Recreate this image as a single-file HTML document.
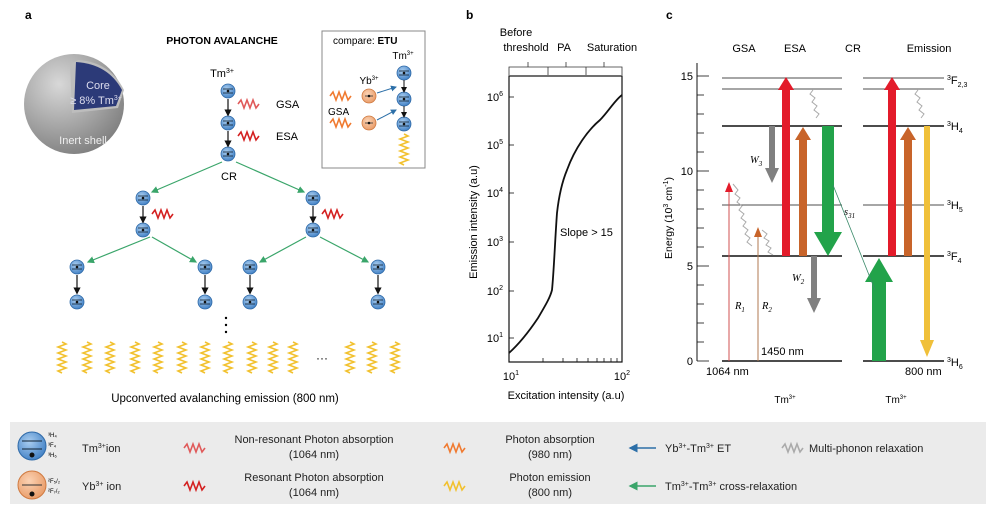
<!DOCTYPE html>
<html><head><meta charset="utf-8"><style>
body{margin:0;background:#fff}
svg{display:block;font-family:"Liberation Sans",sans-serif}
</style></head><body>
<svg width="1000" height="506" viewBox="0 0 1000 506" xmlns="http://www.w3.org/2000/svg">
<defs>
<radialGradient id="bl" cx="0.4" cy="0.35" r="0.7"><stop offset="0" stop-color="#a9cdf0"/><stop offset="1" stop-color="#3f7fc4"/></radialGradient>
<radialGradient id="or" cx="0.4" cy="0.35" r="0.7"><stop offset="0" stop-color="#fbd2b3"/><stop offset="1" stop-color="#e89a66"/></radialGradient>
<radialGradient id="sp" cx="0.35" cy="0.3" r="0.8"><stop offset="0" stop-color="#d8d8d8"/><stop offset="1" stop-color="#7a7a7a"/></radialGradient>
<marker id="ak" markerWidth="6" markerHeight="6" refX="3" refY="3" orient="auto"><path d="M0,0L6,3L0,6z" fill="#111"/></marker>
<marker id="ag" markerWidth="6" markerHeight="6" refX="5" refY="3" orient="auto"><path d="M0,0L6,3L0,6z" fill="#3aa56a"/></marker>
<marker id="ab" markerWidth="6" markerHeight="6" refX="5" refY="3" orient="auto"><path d="M0,0L6,3L0,6z" fill="#2c6fa8"/></marker>
<g id="ion"><circle r="7" fill="url(#bl)" stroke="#2f6aa8" stroke-width="0.8"/><line x1="-5" y1="-2" x2="5" y2="-2" stroke="#123" stroke-width="0.8"/><line x1="-5" y1="2" x2="5" y2="2" stroke="#123" stroke-width="0.8"/><circle cx="0" cy="0" r="1.3" fill="#111"/></g>
<g id="yb"><circle r="7" fill="url(#or)" stroke="#d07a40" stroke-width="0.8"/><line x1="-4" y1="0" x2="4" y2="0" stroke="#333" stroke-width="0.8"/><circle r="1.3" fill="#111"/></g>
<path id="spr" d="M0,0 l4,2 l-8,3 l8,3 l-8,3 l8,3 l-8,3 l8,3 l-8,3 l8,3 l-8,3 l4,2" fill="none" stroke="#f2c12e" stroke-width="1.6"/>
<path id="wr" d="M0,0 l3,-4 l3,8 l3,-8 l3,8 l3,-8 l3,8 l3,-4" fill="none" stroke-width="1.6"/>
</defs>

<!-- Panel a -->
<text x="25" y="19" font-size="12" font-weight="bold">a</text>
<circle cx="74" cy="104" r="50" fill="url(#sp)"/>
<path d="M70,64 L78,60 Q110,62 124,90 L118,108 L72,113 Z" fill="#bdbdbd"/>
<path d="M76,62 Q108,64 122,90 L116,106 L74,110 Z" fill="#2c3a78"/>
<text x="98" y="89" font-size="11" fill="#dde" text-anchor="middle">Core</text>
<text x="96" y="104" font-size="11" fill="#dde" text-anchor="middle">≥ 8% Tm<tspan font-size="7" dy="-4">3+</tspan></text>
<text x="83" y="144" font-size="11" fill="#eee" text-anchor="middle">Inert shell</text>
<text x="222" y="44" font-size="10.5" font-weight="bold" text-anchor="middle">PHOTON AVALANCHE</text>
<text x="222" y="77" font-size="11" text-anchor="middle">Tm<tspan font-size="7" dy="-4">3+</tspan></text>
<use href="#ion" x="228" y="91"/><use href="#ion" x="228" y="123"/><use href="#ion" x="228" y="154"/>
<line x1="228" y1="99" x2="228" y2="113" stroke="#111" stroke-width="1.2" marker-end="url(#ak)"/>
<line x1="228" y1="131" x2="228" y2="144" stroke="#111" stroke-width="1.2" marker-end="url(#ak)"/>
<use href="#wr" x="238" y="104" stroke="#e05a5a"/><text x="276" y="108" font-size="11">GSA</text>
<use href="#wr" x="238" y="136" stroke="#d42020" stroke-width="2.4"/><text x="276" y="140" font-size="11">ESA</text>
<text x="229" y="180" font-size="11" text-anchor="middle">CR</text>
<g stroke="#3aa56a" stroke-width="1.2" marker-end="url(#ag)">
<line x1="222" y1="162" x2="152" y2="192"/><line x1="236" y1="162" x2="304" y2="192"/>
<line x1="150" y1="237" x2="88" y2="262"/><line x1="152" y1="237" x2="196" y2="262"/>
<line x1="306" y1="237" x2="260" y2="262"/><line x1="320" y1="237" x2="368" y2="262"/>
</g>
<use href="#ion" x="143" y="198"/><use href="#ion" x="143" y="230"/><use href="#ion" x="313" y="198"/><use href="#ion" x="313" y="230"/>
<line x1="143" y1="206" x2="143" y2="220" stroke="#111" stroke-width="1.2" marker-end="url(#ak)"/>
<line x1="313" y1="206" x2="313" y2="220" stroke="#111" stroke-width="1.2" marker-end="url(#ak)"/>
<use href="#wr" x="152" y="214" stroke="#d42020" stroke-width="2.4"/><use href="#wr" x="322" y="214" stroke="#d42020" stroke-width="2.4"/>
<g>
<use href="#ion" x="77" y="267"/><use href="#ion" x="77" y="302"/><use href="#ion" x="205" y="267"/><use href="#ion" x="205" y="302"/>
<use href="#ion" x="250" y="267"/><use href="#ion" x="250" y="302"/><use href="#ion" x="378" y="267"/><use href="#ion" x="378" y="302"/>
</g>
<g stroke="#111" stroke-width="1.2" marker-end="url(#ak)">
<line x1="77" y1="275" x2="77" y2="291"/><line x1="205" y1="275" x2="205" y2="291"/><line x1="250" y1="275" x2="250" y2="291"/><line x1="378" y1="275" x2="378" y2="291"/>
</g>
<circle cx="226" cy="318" r="1.2"/><circle cx="226" cy="325" r="1.2"/><circle cx="226" cy="332" r="1.2"/>
<g>
<use href="#spr" x="62" y="342"/><use href="#spr" x="87" y="342"/><use href="#spr" x="110" y="342"/><use href="#spr" x="135" y="342"/><use href="#spr" x="158" y="342"/><use href="#spr" x="182" y="342"/><use href="#spr" x="205" y="342"/><use href="#spr" x="228" y="342"/><use href="#spr" x="252" y="342"/><use href="#spr" x="273" y="342"/><use href="#spr" x="293" y="342"/><use href="#spr" x="350" y="342"/><use href="#spr" x="372" y="342"/><use href="#spr" x="395" y="342"/>
</g>
<text x="322" y="362" font-size="12" text-anchor="middle">···</text>
<text x="225" y="402" font-size="11.5" text-anchor="middle">Upconverted avalanching emission (800 nm)</text>
<!-- inset -->
<rect x="322" y="31" width="103" height="137" fill="#fff" stroke="#888" stroke-width="1"/>
<text x="333" y="44" font-size="10">compare: <tspan font-weight="bold">ETU</tspan></text>
<text x="403" y="59" font-size="10" text-anchor="middle">Tm<tspan font-size="6" dy="-4">3+</tspan></text>
<text x="369" y="84" font-size="10" text-anchor="middle">Yb<tspan font-size="6" dy="-4">3+</tspan></text>
<use href="#ion" x="404" y="73"/><use href="#ion" x="404" y="99"/><use href="#ion" x="404" y="124"/>
<use href="#yb" x="369" y="96"/><use href="#yb" x="369" y="123"/>
<use href="#wr" x="330" y="96" stroke="#f07a30"/><use href="#wr" x="330" y="123" stroke="#f07a30"/>
<text x="328" y="115" font-size="10">GSA</text>
<line x1="377" y1="93" x2="396" y2="87" stroke="#2c6fa8" marker-end="url(#ab)"/>
<line x1="377" y1="120" x2="396" y2="110" stroke="#2c6fa8" marker-end="url(#ab)"/>
<line x1="404" y1="80" x2="404" y2="90" stroke="#111" marker-end="url(#ak)"/>
<line x1="404" y1="106" x2="404" y2="115" stroke="#111" marker-end="url(#ak)"/>
<use href="#spr" x="404" y="134"/>

<!-- Panel b -->
<text x="466" y="19" font-size="12" font-weight="bold">b</text>
<text x="516" y="36" font-size="11" text-anchor="middle">Before</text>
<text x="526" y="51" font-size="11" text-anchor="middle">threshold</text>
<text x="564" y="51" font-size="11" text-anchor="middle">PA</text>
<text x="612" y="51" font-size="11" text-anchor="middle">Saturation</text>
<path d="M509,75 V67 H622 V75 M548,67 V75 M586,67 V75 M528,67 V62 M566,67 V62 M604,67 V62" fill="none" stroke="#333" stroke-width="0.8"/>
<rect x="509" y="76" width="113" height="286" fill="none" stroke="#111" stroke-width="1.2"/>
<g font-size="11" text-anchor="end">
<text x="503" y="101">10<tspan font-size="7" dy="-5">6</tspan></text>
<text x="503" y="149">10<tspan font-size="7" dy="-5">5</tspan></text>
<text x="503" y="197">10<tspan font-size="7" dy="-5">4</tspan></text>
<text x="503" y="246">10<tspan font-size="7" dy="-5">3</tspan></text>
<text x="503" y="295">10<tspan font-size="7" dy="-5">2</tspan></text>
<text x="503" y="342">10<tspan font-size="7" dy="-5">1</tspan></text>
</g>
<g stroke="#111" stroke-width="0.8">
<line x1="509" y1="97" x2="514" y2="97"/><line x1="509" y1="145" x2="514" y2="145"/><line x1="509" y1="193" x2="514" y2="193"/><line x1="509" y1="242" x2="514" y2="242"/><line x1="509" y1="291" x2="514" y2="291"/><line x1="509" y1="338" x2="514" y2="338"/>
<line x1="543" y1="362" x2="543" y2="358"/><line x1="563" y1="362" x2="563" y2="358"/><line x1="577" y1="362" x2="577" y2="358"/><line x1="588" y1="362" x2="588" y2="358"/><line x1="597" y1="362" x2="597" y2="358"/><line x1="604" y1="362" x2="604" y2="358"/><line x1="611" y1="362" x2="611" y2="358"/><line x1="617" y1="362" x2="617" y2="358"/>
</g>
<path d="M509,353 C520,343 530,330 538,318 C545,306 550,298 552,290 C554,270 555,240 557,213 C559,195 562,182 567,170 C575,148 588,130 600,120 C608,112 615,100 622,95" fill="none" stroke="#111" stroke-width="1.8"/>
<text x="560" y="236" font-size="11">Slope &gt; 15</text>
<text x="511" y="380" font-size="11" text-anchor="middle">10<tspan font-size="7" dy="-5">1</tspan></text>
<text x="622" y="380" font-size="11" text-anchor="middle">10<tspan font-size="7" dy="-5">2</tspan></text>
<text x="566" y="399" font-size="11" text-anchor="middle">Excitation intensity (a.u)</text>
<text transform="translate(477,222) rotate(-90)" font-size="11" text-anchor="middle">Emission intensity (a.u)</text>

<!-- Panel c -->
<text x="666" y="19" font-size="12" font-weight="bold">c</text>
<g font-size="11" text-anchor="middle"><text x="744" y="52">GSA</text><text x="795" y="52">ESA</text><text x="853" y="52">CR</text><text x="929" y="52">Emission</text></g>
<line x1="697" y1="63" x2="697" y2="361" stroke="#111" stroke-width="1"/>
<g stroke="#111" stroke-width="0.8">
<line x1="697" y1="361" x2="709" y2="361"/><line x1="697" y1="342" x2="704" y2="342"/><line x1="697" y1="323" x2="704" y2="323"/><line x1="697" y1="304" x2="704" y2="304"/><line x1="697" y1="285" x2="704" y2="285"/><line x1="697" y1="266" x2="709" y2="266"/><line x1="697" y1="247" x2="704" y2="247"/><line x1="697" y1="228" x2="704" y2="228"/><line x1="697" y1="209" x2="704" y2="209"/><line x1="697" y1="190" x2="704" y2="190"/><line x1="697" y1="171" x2="709" y2="171"/><line x1="697" y1="152" x2="704" y2="152"/><line x1="697" y1="133" x2="704" y2="133"/><line x1="697" y1="114" x2="704" y2="114"/><line x1="697" y1="95" x2="704" y2="95"/><line x1="697" y1="76" x2="709" y2="76"/>
</g>
<g font-size="11" text-anchor="end"><text x="693" y="365">0</text><text x="693" y="270">5</text><text x="693" y="175">10</text><text x="693" y="80">15</text></g>
<text transform="translate(672,218) rotate(-90)" font-size="10.5" text-anchor="middle">Energy (10<tspan font-size="7" dy="-4">3</tspan><tspan dy="4"> cm</tspan><tspan font-size="7" dy="-4">-1</tspan><tspan dy="4">)</tspan></text>
<g stroke="#111">
<line x1="722" y1="78" x2="842" y2="78" stroke-width="0.8"/><line x1="722" y1="89" x2="842" y2="89" stroke-width="0.8"/><line x1="722" y1="126" x2="842" y2="126" stroke-width="1.5"/><line x1="722" y1="205" x2="842" y2="205" stroke-width="0.8"/><line x1="722" y1="256" x2="842" y2="256" stroke-width="1.5"/><line x1="722" y1="361" x2="842" y2="361" stroke-width="1.5"/>
<line x1="863" y1="78" x2="944" y2="78" stroke-width="0.8"/><line x1="863" y1="89" x2="944" y2="89" stroke-width="0.8"/><line x1="863" y1="126" x2="944" y2="126" stroke-width="1.5"/><line x1="863" y1="205" x2="944" y2="205" stroke-width="0.8"/><line x1="863" y1="256" x2="944" y2="256" stroke-width="1.5"/><line x1="863" y1="361" x2="944" y2="361" stroke-width="1.5"/>
</g>
<g font-size="11"><text x="947" y="84"><tspan font-size="7" dy="-4">3</tspan><tspan dy="4">F</tspan><tspan font-size="7" dy="3">2,3</tspan></text>
<text x="947" y="130"><tspan font-size="7" dy="-4">3</tspan><tspan dy="4">H</tspan><tspan font-size="7" dy="3">4</tspan></text>
<text x="947" y="209"><tspan font-size="7" dy="-4">3</tspan><tspan dy="4">H</tspan><tspan font-size="7" dy="3">5</tspan></text>
<text x="947" y="260"><tspan font-size="7" dy="-4">3</tspan><tspan dy="4">F</tspan><tspan font-size="7" dy="3">4</tspan></text>
<text x="947" y="366"><tspan font-size="7" dy="-4">3</tspan><tspan dy="4">H</tspan><tspan font-size="7" dy="3">6</tspan></text></g>
<!-- arrows c -->
<path d="M782,256 V90 H778 L786,77 L794,90 H790 V256Z" fill="#e31b2a"/>
<path d="M799,256 V140 H795 L803,127 L811,140 H807 V256Z" fill="#c8642a"/>
<path d="M822,126 V232 H814 L828,256 L842,232 H834 V126Z" fill="#22a34a"/>
<path d="M769,126 V168 H765 L772,183 L779,168 H775 V126Z" fill="#808080"/>
<path d="M811,256 V298 H807 L814,313 L821,298 H817 V256Z" fill="#808080"/>
<path d="M888,256 V90 H884 L892,77 L900,90 H896 V256Z" fill="#e31b2a"/>
<path d="M904,256 V140 H900 L908,127 L916,140 H912 V256Z" fill="#c8642a"/>
<path d="M872,361 V282 H865 L879,258 L893,282 H886 V361Z" fill="#22a34a"/>
<path d="M924,126 V340 H920 L927,357 L934,340 H930 V126Z" fill="#f0c03a"/>
<line x1="729" y1="361" x2="729" y2="190" stroke="#d05050" stroke-width="1"/><path d="M725,192 L729,182 L733,192Z" fill="#e31b2a"/>
<line x1="758" y1="361" x2="758" y2="235" stroke="#b07a50" stroke-width="1"/><path d="M754,237 L758,227 L762,237Z" fill="#c8642a"/>
<line x1="833" y1="185" x2="875" y2="290" stroke="#3a8a6a" stroke-width="0.8"/>
<g fill="none" stroke="#aaa" stroke-width="1">
<path d="M733,184 l5,6 l-3,4 l5,4 l-3,4 l5,4 l-3,4 l5,4 l-3,4 l5,4 l-3,4 l5,4 l-3,4 l5,4 l-3,4 l5,4"/>
<path d="M762,230 l5,4 l-3,4 l5,3 l-3,4 l5,3 l-3,4 l5,3"/>
<path d="M813,90 l-3,4 l5,4 l-3,4 l5,4 l-3,4 l5,4 l-3,4"/>
<path d="M918,90 l-3,4 l5,4 l-3,4 l5,4 l-3,4 l5,4 l-3,4"/>
</g>
<g font-size="10.5" font-style="italic" font-family="Liberation Serif,serif"><text x="735" y="309">R<tspan font-size="7" dy="3">1</tspan></text><text x="762" y="309">R<tspan font-size="7" dy="3">2</tspan></text><text x="750" y="163">W<tspan font-size="7" dy="3">3</tspan></text><text x="792" y="281">W<tspan font-size="7" dy="3">2</tspan></text><text x="844" y="215">s<tspan font-size="7" dy="3">31</tspan></text></g>
<text x="761" y="355" font-size="11">1450 nm</text>
<text x="706" y="375" font-size="11">1064 nm</text>
<text x="905" y="375" font-size="11">800 nm</text>
<text x="785" y="403" font-size="10" text-anchor="middle">Tm<tspan font-size="6" dy="-4">3+</tspan></text>
<text x="896" y="403" font-size="10" text-anchor="middle">Tm<tspan font-size="6" dy="-4">3+</tspan></text>

<!-- legend -->
<rect x="10" y="422" width="976" height="82" fill="#ebebeb"/>
<circle cx="32" cy="446" r="14" fill="url(#bl)" stroke="#2f6aa8"/><line x1="22" y1="441" x2="42" y2="441" stroke="#123"/><line x1="22" y1="449" x2="42" y2="449" stroke="#123"/><circle cx="32" cy="455" r="2.5" fill="#111"/>
<circle cx="32" cy="485" r="14" fill="url(#or)" stroke="#d07a40"/><line x1="22" y1="485" x2="42" y2="485" stroke="#333"/><circle cx="32" cy="494" r="2.5" fill="#111"/>
<g font-size="6"><text x="48" y="437">³H₄</text><text x="48" y="447">³F₄</text><text x="48" y="457">³H₆</text><text x="48" y="483">²F₅/₂</text><text x="48" y="493">²F₇/₂</text></g>
<g font-size="11" fill="#222">
<text x="82" y="452">Tm<tspan font-size="7" dy="-4">3+</tspan><tspan dy="4">ion</tspan></text>
<text x="82" y="490">Yb<tspan font-size="7" dy="-4">3+</tspan><tspan dy="4"> ion</tspan></text>
<text x="314" y="443" text-anchor="middle">Non-resonant Photon absorption</text><text x="314" y="458" text-anchor="middle">(1064 nm)</text>
<text x="314" y="481" text-anchor="middle">Resonant Photon absorption</text><text x="314" y="496" text-anchor="middle">(1064 nm)</text>
<text x="550" y="443" text-anchor="middle">Photon absorption</text><text x="550" y="458" text-anchor="middle">(980 nm)</text>
<text x="550" y="481" text-anchor="middle">Photon emission</text><text x="550" y="496" text-anchor="middle">(800 nm)</text>
<text x="665" y="452">Yb<tspan font-size="7" dy="-4">3+</tspan><tspan dy="4">-Tm</tspan><tspan font-size="7" dy="-4">3+</tspan><tspan dy="4"> ET</tspan></text>
<text x="665" y="490">Tm<tspan font-size="7" dy="-4">3+</tspan><tspan dy="4">-Tm</tspan><tspan font-size="7" dy="-4">3+</tspan><tspan dy="4"> cross-relaxation</tspan></text>
<text x="809" y="452">Multi-phonon relaxation</text>
</g>
<use href="#wr" x="184" y="448" stroke="#e05a5a"/>
<use href="#wr" x="184" y="486" stroke="#d42020" stroke-width="2.4"/>
<use href="#wr" x="444" y="448" stroke="#f07a30" stroke-width="2"/>
<use href="#wr" x="444" y="486" stroke="#f2c12e" stroke-width="2"/>
<line x1="656" y1="448" x2="630" y2="448" stroke="#2c6fa8" stroke-width="1.5" marker-end="url(#ab)"/>
<line x1="656" y1="486" x2="630" y2="486" stroke="#3aa56a" stroke-width="1.5" marker-end="url(#ag)"/>
<use href="#wr" x="782" y="448" stroke="#aaa"/>
</svg>
</body></html>
